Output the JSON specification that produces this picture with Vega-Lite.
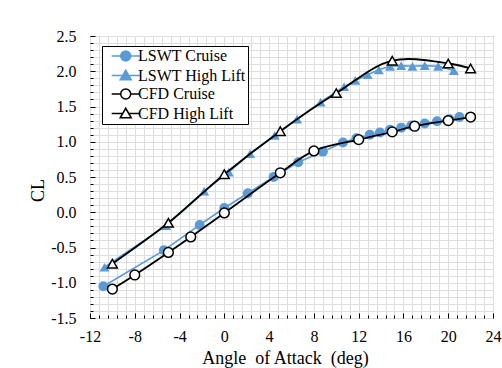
{
  "$schema": "https://vega.github.io/schema/vega-lite/v6.json",
  "width": 403,
  "height": 282,
  "autosize": {"type": "none"},
  "padding": {"left": 90, "top": 36, "right": 9, "bottom": 50},
  "background": "white",
  "config": {
    "view": {"stroke": "black", "strokeWidth": 1},
    "font": "Liberation Serif"
  },
  "data": {
    "values": [
      {"s": "LSWT Cruise", "a": -10.8, "cl": -1.05},
      {"s": "LSWT Cruise", "a": -5.4, "cl": -0.54},
      {"s": "LSWT Cruise", "a": -2.2, "cl": -0.18},
      {"s": "LSWT Cruise", "a": 0.0, "cl": 0.06},
      {"s": "LSWT Cruise", "a": 2.1, "cl": 0.27},
      {"s": "LSWT Cruise", "a": 4.4, "cl": 0.5},
      {"s": "LSWT Cruise", "a": 6.6, "cl": 0.71},
      {"s": "LSWT Cruise", "a": 8.8, "cl": 0.86},
      {"s": "LSWT Cruise", "a": 10.6, "cl": 0.99},
      {"s": "LSWT Cruise", "a": 11.8, "cl": 1.05},
      {"s": "LSWT Cruise", "a": 13.0, "cl": 1.1},
      {"s": "LSWT Cruise", "a": 13.9, "cl": 1.13},
      {"s": "LSWT Cruise", "a": 14.8, "cl": 1.17},
      {"s": "LSWT Cruise", "a": 15.8, "cl": 1.2},
      {"s": "LSWT Cruise", "a": 16.7, "cl": 1.23},
      {"s": "LSWT Cruise", "a": 17.9, "cl": 1.26},
      {"s": "LSWT Cruise", "a": 19.0, "cl": 1.29},
      {"s": "LSWT Cruise", "a": 20.1, "cl": 1.32},
      {"s": "LSWT Cruise", "a": 21.0, "cl": 1.35},
      {"s": "LSWT High Lift", "a": -10.7, "cl": -0.78},
      {"s": "LSWT High Lift", "a": -5.2, "cl": -0.19},
      {"s": "LSWT High Lift", "a": -1.8, "cl": 0.3},
      {"s": "LSWT High Lift", "a": 0.4, "cl": 0.57},
      {"s": "LSWT High Lift", "a": 2.3, "cl": 0.83},
      {"s": "LSWT High Lift", "a": 4.5, "cl": 1.09},
      {"s": "LSWT High Lift", "a": 6.5, "cl": 1.32},
      {"s": "LSWT High Lift", "a": 8.6, "cl": 1.56},
      {"s": "LSWT High Lift", "a": 10.7, "cl": 1.78},
      {"s": "LSWT High Lift", "a": 11.7, "cl": 1.87},
      {"s": "LSWT High Lift", "a": 12.8, "cl": 1.95},
      {"s": "LSWT High Lift", "a": 13.8, "cl": 2.02},
      {"s": "LSWT High Lift", "a": 14.8, "cl": 2.07},
      {"s": "LSWT High Lift", "a": 15.8, "cl": 2.08},
      {"s": "LSWT High Lift", "a": 16.8, "cl": 2.07},
      {"s": "LSWT High Lift", "a": 17.9, "cl": 2.08},
      {"s": "LSWT High Lift", "a": 19.1, "cl": 2.07},
      {"s": "LSWT High Lift", "a": 20.5, "cl": 2.01},
      {"s": "CFD Cruise", "a": -10, "cl": -1.09},
      {"s": "CFD Cruise", "a": -8, "cl": -0.89},
      {"s": "CFD Cruise", "a": -5, "cl": -0.57},
      {"s": "CFD Cruise", "a": -3, "cl": -0.35},
      {"s": "CFD Cruise", "a": 0, "cl": -0.01},
      {"s": "CFD Cruise", "a": 5, "cl": 0.56},
      {"s": "CFD Cruise", "a": 8, "cl": 0.87},
      {"s": "CFD Cruise", "a": 12, "cl": 1.03},
      {"s": "CFD Cruise", "a": 15, "cl": 1.14},
      {"s": "CFD Cruise", "a": 17, "cl": 1.22},
      {"s": "CFD Cruise", "a": 20, "cl": 1.3},
      {"s": "CFD Cruise", "a": 22, "cl": 1.35},
      {"s": "CFD High Lift", "a": -10, "cl": -0.73},
      {"s": "CFD High Lift", "a": -5, "cl": -0.15},
      {"s": "CFD High Lift", "a": 0, "cl": 0.54},
      {"s": "CFD High Lift", "a": 5, "cl": 1.15},
      {"s": "CFD High Lift", "a": 10, "cl": 1.69},
      {"s": "CFD High Lift", "a": 15, "cl": 2.15},
      {"s": "CFD High Lift", "a": 20, "cl": 2.11},
      {"s": "CFD High Lift", "a": 22, "cl": 2.04}
    ]
  },
  "layer": [
    {
      "transform": [{"filter": "indexof(datum.s, 'LSWT') == 0"}],
      "mark": {"type": "line", "color": "#5B9BD5", "strokeWidth": 1.6, "clip": true},
      "encoding": {
        "x": {
          "field": "a", "type": "quantitative",
          "scale": {"domain": [-12, 24], "nice": false, "zero": false},
          "axis": {
            "orient": "top", "title": null, "labels": false, "ticks": false, "domain": false,
            "grid": true, "gridColor": "#dedede", "gridWidth": 1, "zindex": 0,
            "values": [-12, -11.2, -10.4, -9.6, -8.8, -8, -7.2, -6.4, -5.6, -4.8, -4, -3.2, -2.4, -1.6, -0.8, 0, 0.8, 1.6, 2.4, 3.2, 4, 4.8, 5.6, 6.4, 7.2, 8, 8.8, 9.6, 10.4, 11.2, 12, 12.8, 13.6, 14.4, 15.2, 16, 16.8, 17.6, 18.4, 19.2, 20, 20.8, 21.6, 22.4, 23.2, 24]
          }
        },
        "y": {
          "field": "cl", "type": "quantitative",
          "scale": {"domain": [-1.5, 2.5], "nice": false, "zero": false},
          "axis": {
            "orient": "right", "title": null, "labels": false, "ticks": false, "domain": false,
            "grid": true, "gridColor": "#dedede", "gridWidth": 1, "zindex": 0,
            "values": [-1.5, -1.4, -1.3, -1.2, -1.1, -1.0, -0.9, -0.8, -0.7, -0.6, -0.5, -0.4, -0.3, -0.2, -0.1, 0, 0.1, 0.2, 0.3, 0.4, 0.5, 0.6, 0.7, 0.8, 0.9, 1.0, 1.1, 1.2, 1.3, 1.4, 1.5, 1.6, 1.7, 1.8, 1.9, 2.0, 2.1, 2.2, 2.3, 2.4, 2.5]
          }
        },
        "detail": {"field": "s"},
        "order": {"field": "a"}
      }
    },
    {
      "transform": [{"filter": "indexof(datum.s, 'LSWT') == 0"}],
      "mark": {"type": "point", "filled": true, "color": "#5B9BD5", "opacity": 1, "size": 100},
      "encoding": {
        "x": {
          "field": "a", "type": "quantitative",
          "scale": {"domain": [-12, 24], "nice": false, "zero": false},
          "axis": {
            "orient": "bottom",
            "title": "Angle\u00a0 of Attack\u00a0 (deg)",
            "titleFont": "Liberation Serif",
            "titleFontSize": 18,
            "titleFontWeight": "normal",
            "titleColor": "black",
            "titlePadding": 3,
            "titleX": 195,
            "values": [-12, -11.2, -10.4, -9.6, -8.8, -8, -7.2, -6.4, -5.6, -4.8, -4, -3.2, -2.4, -1.6, -0.8, 0, 0.8, 1.6, 2.4, 3.2, 4, 4.8, 5.6, 6.4, 7.2, 8, 8.8, 9.6, 10.4, 11.2, 12, 12.8, 13.6, 14.4, 15.2, 16, 16.8, 17.6, 18.4, 19.2, 20, 20.8, 21.6, 22.4, 23.2, 24],
            "labelExpr": "abs(datum.value/4 - round(datum.value/4)) < 0.001 ? replace(format(datum.value, 'd'), '\u2212', '-') : ''",
            "labelFont": "Liberation Serif",
            "labelFontSize": 16,
            "labelColor": "black",
            "labelOverlap": false,
            "labelFlush": false,
            "labelPadding": 15,
            "domain": false,
            "grid": false,
            "tickColor": "black",
            "tickWidth": 1,
            "tickSize": {"condition": {"test": "abs(datum.value/4 - round(datum.value/4)) < 0.001", "value": -5}, "value": -3},
            "zindex": 1
          }
        },
        "y": {
          "field": "cl", "type": "quantitative",
          "scale": {"domain": [-1.5, 2.5], "nice": false, "zero": false},
          "axis": {
            "orient": "left",
            "title": "CL",
            "titleFont": "Liberation Serif",
            "titleFontSize": 18,
            "titleFontWeight": "normal",
            "titleColor": "black",
            "titlePadding": 3,
            "titleY": 154,
            "values": [-1.5, -1.4, -1.3, -1.2, -1.1, -1.0, -0.9, -0.8, -0.7, -0.6, -0.5, -0.4, -0.3, -0.2, -0.1, 0, 0.1, 0.2, 0.3, 0.4, 0.5, 0.6, 0.7, 0.8, 0.9, 1.0, 1.1, 1.2, 1.3, 1.4, 1.5, 1.6, 1.7, 1.8, 1.9, 2.0, 2.1, 2.2, 2.3, 2.4, 2.5],
            "labelExpr": "abs(datum.value*2 - round(datum.value*2)) < 0.001 ? replace(format(datum.value, '.1f'), '\u2212', '-') : ''",
            "labelFont": "Liberation Serif",
            "labelFontSize": 16,
            "labelColor": "black",
            "labelOverlap": false,
            "labelFlush": false,
            "labelPadding": 19,
            "domain": false,
            "grid": false,
            "tickColor": "black",
            "tickWidth": 1,
            "tickSize": {"condition": {"test": "abs(datum.value*2 - round(datum.value*2)) < 0.001", "value": -5}, "value": -3},
            "zindex": 1
          }
        },
        "shape": {
          "field": "s",
          "scale": {"domain": ["LSWT Cruise", "LSWT High Lift"], "range": ["circle", "triangle-up"]},
          "legend": null
        }
      }
    },
    {
      "transform": [{"filter": "indexof(datum.s, 'CFD') == 0"}],
      "mark": {"type": "line", "color": "black", "strokeWidth": 1.8, "interpolate": "catmull-rom", "clip": true},
      "encoding": {
        "x": {"field": "a", "type": "quantitative", "axis": null},
        "y": {"field": "cl", "type": "quantitative", "axis": null},
        "detail": {"field": "s"},
        "order": {"field": "a"}
      }
    },
    {
      "transform": [{"filter": "indexof(datum.s, 'CFD') == 0"}],
      "mark": {"type": "point", "filled": false, "fill": "white", "stroke": "black", "strokeWidth": 1.5, "opacity": 1, "size": 95},
      "encoding": {
        "x": {"field": "a", "type": "quantitative", "axis": null},
        "y": {"field": "cl", "type": "quantitative", "axis": null},
        "shape": {
          "field": "s",
          "scale": {"domain": ["CFD Cruise", "CFD High Lift"], "range": ["circle", "triangle-up"]},
          "legend": null
        }
      }
    },
    {
      "transform": [{"filter": "false"}],
      "mark": {"type": "point", "filled": false, "strokeWidth": 1.5, "opacity": 1},
      "encoding": {
        "x": {"field": "a", "type": "quantitative", "axis": null},
        "y": {"field": "cl", "type": "quantitative", "axis": null},
        "shape": {
          "field": "s",
          "scale": {
            "domain": ["LSWT Cruise", "LSWT High Lift", "CFD Cruise", "CFD High Lift"],
            "range": [
              "M-0.06,0L1.74,0M3.74,0L5.54,0M1.74,0C1.74,-0.5523 2.1877,-1 2.74,-1C3.2923,-1 3.74,-0.5523 3.74,0C3.74,0.5523 3.2923,1 2.74,1C2.1877,1 1.74,0.5523 1.74,0Z",
              "M-0.06,0L2.13,0M3.35,0L5.54,0M2.74,-1.05L3.84,0.85L1.64,0.85Z",
              "M-0.06,0L1.74,0M3.74,0L5.54,0M1.74,0C1.74,-0.5523 2.1877,-1 2.74,-1C3.2923,-1 3.74,-0.5523 3.74,0C3.74,0.5523 3.2923,1 2.74,1C2.1877,1 1.74,0.5523 1.74,0Z",
              "M-0.06,0L2.13,0M3.35,0L5.54,0M2.74,-1.05L3.84,0.85L1.64,0.85Z"
            ]
          },
          "legend": {
            "title": null,
            "orient": "none",
            "legendX": 12,
            "legendY": 10,
            "strokeColor": "black",
            "fillColor": "white",
            "padding": 2,
            "labelFont": "Liberation Serif",
            "labelFontSize": 16,
            "labelColor": "black",
            "labelOffset": 18,
            "rowPadding": 2.5,
            "symbolSize": 100,
            "symbolStrokeWidth": 1.5,
            "zindex": 2
          }
        },
        "fill": {
          "field": "s",
          "scale": {
            "domain": ["LSWT Cruise", "LSWT High Lift", "CFD Cruise", "CFD High Lift"],
            "range": ["#5B9BD5", "#5B9BD5", "white", "white"]
          },
          "legend": {"title": null}
        },
        "stroke": {
          "field": "s",
          "scale": {
            "domain": ["LSWT Cruise", "LSWT High Lift", "CFD Cruise", "CFD High Lift"],
            "range": ["#5B9BD5", "#5B9BD5", "black", "black"]
          },
          "legend": {"title": null}
        }
      }
    }
  ],
  "resolve": {
    "scale": {"shape": "independent", "fill": "independent", "stroke": "independent"},
    "axis": {"x": "independent", "y": "independent"}
  }
}
